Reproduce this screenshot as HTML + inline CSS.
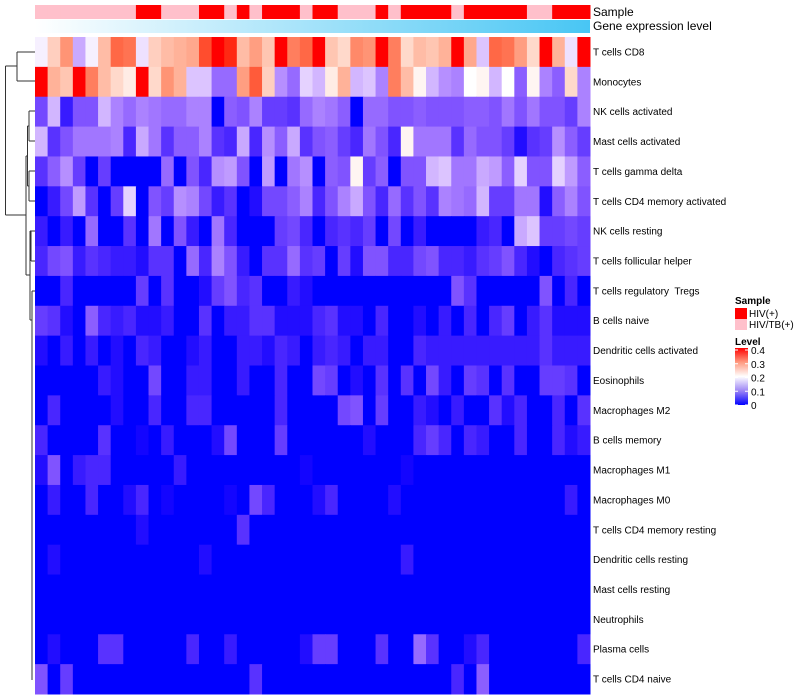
<!DOCTYPE html>
<html><head><meta charset="utf-8"><style>
body{margin:0;background:#fff;}
svg{display:block;font-family:"Liberation Sans",Arial,sans-serif;}
#rowlabels text{white-space:pre;}
</style></head><body>
<svg id="chart" width="800" height="700" viewBox="0 0 800 700">
<defs>
<linearGradient id="geneGrad" x1="0" x2="1" y1="0" y2="0"><stop offset="0" stop-color="#ffffff"/><stop offset="1" stop-color="#48c6f4"/></linearGradient>
<linearGradient id="levelGrad" x1="0" x2="0" y1="1" y2="0"><stop offset="0" stop-color="#0000ff"/><stop offset="0.25" stop-color="#9d86f5"/><stop offset="0.5" stop-color="#ffffff"/><stop offset="0.75" stop-color="#ff9a80"/><stop offset="1" stop-color="#ff0000"/></linearGradient>
</defs>
<g id="sample-bar"></g>
<rect x="35" y="20" width="555" height="13" fill="url(#geneGrad)"/>
<text x="593" y="16" font-size="12">Sample</text>
<text x="593" y="30" font-size="12">Gene expression level</text>
<g id="cells"></g>
<g id="rowlabels"></g>
<g id="dendro" stroke="#333" stroke-width="1" fill="none">
<path d="M5.5 66V215M5.5 66H17M5.5 215H26M17 52V81M17 52H35M17 81H35M26 156V275M26 156H27.5M26 275H30M27.5 126V186M27.5 126H29M27.5 186H29M29 111V141M29 111H35M29 141H35M29 171V201M29 171H35M29 201H35M30 231V320M30 231H31M30 320H32M31 231V261M31 231H35M31 261H35M32 291V680M32 291H35"/>
</g>
<g>
<text x="735" y="304" font-size="10" font-weight="bold">Sample</text>
<rect x="735" y="308" width="12" height="11" fill="#ff0000"/>
<text x="749" y="317" font-size="10">HIV(+)</text>
<rect x="735" y="319" width="12" height="11" fill="#ffc0cb"/>
<text x="749" y="328" font-size="10">HIV/TB(+)</text>
</g>
<g>
<text x="735" y="345" font-size="10" font-weight="bold">Level</text>
<rect x="735" y="348" width="13" height="57" fill="url(#levelGrad)"/>
<g id="levelticks"></g>
</g>
</svg>
<script>
const rowNames=["T cells CD8","Monocytes","NK cells activated","Mast cells activated","T cells gamma delta","T cells CD4 memory activated","NK cells resting","T cells follicular helper","T cells regulatory  Tregs","B cells naive","Dendritic cells activated","Eosinophils","Macrophages M2","B cells memory","Macrophages M1","Macrophages M0","T cells CD4 memory resting","Dendritic cells resting","Mast cells resting","Neutrophils","Plasma cells","T cells CD4 naive"];
const sampleGroups=["P","P","P","P","P","P","P","P","R","R","P","P","P","R","R","P","R","P","R","R","R","P","R","R","P","P","P","R","P","R","R","R","R","P","R","R","R","R","R","P","P","R","R","R"];
const levelTicks=[0,0.1,0.2,0.3,0.4];
const rCD8=[0.19,0.25,0.31,0.14,0.19,0.27,0.35,0.34,0.18,0.25,0.27,0.28,0.29,0.37,0.4,0.39,0.27,0.3,0.26,0.4,0.33,0.35,0.4,0.26,0.24,0.32,0.31,0.4,0.33,0.24,0.27,0.26,0.28,0.4,0.29,0.16,0.35,0.34,0.3,0.24,0.4,0.28,0.18,0.4];
const rMono=[0.4,0.28,0.26,0.4,0.33,0.27,0.24,0.22,0.4,0.24,0.31,0.28,0.16,0.16,0.09,0.09,0.3,0.36,0.25,0.12,0.09,0.17,0.15,0.22,0.28,0.15,0.16,0.11,0.33,0.27,0.21,0.15,0.12,0.11,0.2,0.21,0.15,0.2,0.08,0.21,0.11,0.08,0.24,0.11];
const rNKact=[0.06,0.15,0.02,0.07,0.07,0.15,0.11,0.09,0.11,0.1,0.09,0.09,0.11,0.11,0,0.08,0.07,0.11,0.05,0.05,0.04,0.09,0.11,0.1,0.08,0,0.09,0.09,0.07,0.07,0.08,0.07,0.07,0.07,0.08,0.08,0.07,0.1,0.07,0.1,0.07,0.07,0.05,0.11];
const rMastAct=[0.15,0.04,0.07,0.1,0.1,0.1,0.11,0.03,0.14,0.1,0.04,0.08,0.08,0.11,0.04,0.03,0.14,0.03,0.12,0.08,0.14,0.04,0.07,0.08,0.05,0.03,0.1,0.07,0.03,0.21,0.1,0.1,0.1,0.04,0.09,0.07,0.07,0.05,0.01,0.04,0.05,0.12,0.08,0.05];
const rGD=[0.04,0.08,0.12,0.05,0,0.05,0,0,0,0,0.09,0,0.07,0.03,0.12,0.13,0.07,0,0.13,0,0.1,0.12,0,0.08,0.07,0.21,0.05,0.08,0,0.07,0.07,0.15,0.16,0.1,0.1,0.14,0.13,0.08,0.17,0.07,0.07,0.17,0.13,0.08];
const rCD4act=[0,0.02,0.06,0.13,0.04,0,0.05,0.17,0,0.07,0.05,0.12,0.11,0.06,0.02,0.04,0,0.01,0.06,0.06,0.08,0.11,0.03,0.07,0.11,0.14,0.07,0.03,0.09,0.04,0.07,0.04,0.11,0.1,0.09,0.15,0.05,0.05,0.1,0.1,0.01,0.08,0.11,0.07];
const rNKrest=[0.02,0,0.02,0,0.09,0,0,0.04,0,0.1,0,0.07,0.02,0,0.1,0.03,0,0,0,0.05,0.06,0.03,0,0.03,0.04,0.03,0.05,0,0.06,0,0.02,0,0,0,0,0.02,0.03,0,0.14,0.16,0.05,0.05,0.06,0.05];
const rTfh=[0.03,0.06,0.07,0.02,0.04,0.03,0.02,0.02,0.01,0.04,0.04,0,0.09,0.03,0.11,0.07,0.02,0,0.04,0.04,0.09,0.04,0.05,0,0.05,0.01,0.07,0.07,0.03,0.03,0.06,0.07,0.03,0.03,0.02,0.04,0.05,0.07,0.03,0.01,0,0.03,0.04,0.05];
const rTreg=[0,0,0.03,0,0,0,0,0,0.05,0,0.04,0,0,0.01,0.05,0.07,0.03,0.04,0,0,0.02,0.01,0,0,0,0,0,0,0,0,0,0,0,0.07,0.04,0,0,0,0,0,0.07,0,0.03,0];
const rBnaive=[0.05,0.04,0.01,0,0.08,0.03,0.02,0.03,0.01,0.01,0.02,0,0,0.04,0,0.02,0.02,0.04,0.04,0.01,0.01,0.01,0.03,0.04,0.01,0.01,0,0.03,0,0,0.01,0,0.02,0,0.03,0,0.03,0.05,0,0.02,0.04,0.01,0.01,0.01];
const rDCact=[0.01,0,0.02,0,0.02,0,0.01,0,0.03,0.02,0,0,0.01,0.02,0,0,0.02,0.02,0.01,0.03,0.02,0,0.02,0.03,0.02,0,0.02,0.02,0,0,0.03,0.02,0.02,0.02,0.02,0.02,0.02,0.02,0.02,0.02,0.04,0.02,0.02,0.02];
const rEos=[0,0,0,0,0,0.02,0.01,0,0,0.06,0,0,0.02,0.02,0,0,0.02,0,0,0.03,0,0,0.06,0.05,0,0.01,0,0.04,0,0.04,0,0.06,0.02,0,0.05,0.04,0,0.04,0,0,0.05,0.05,0.04,0];
const rM2=[0,0.03,0,0,0,0,0.01,0,0,0.03,0,0,0.03,0.03,0,0,0,0,0,0.03,0,0,0,0,0.06,0.07,0,0.05,0,0,0.02,0.01,0,0.02,0,0,0.04,0.01,0.03,0,0,0.03,0,0.04];
const rBmem=[0.03,0,0,0,0,0.04,0,0,0.005,0,0.02,0,0,0,0.01,0.06,0,0,0,0.05,0,0,0,0,0,0,0.01,0,0,0,0.03,0.05,0.03,0,0.03,0.02,0,0,0.03,0,0,0.03,0.01,0.02];
const rM1=[0.01,0.07,0,0.02,0.03,0.03,0,0,0,0,0,0.02,0,0,0,0,0,0,0,0,0,0.005,0,0,0,0,0,0,0,0.005,0,0,0,0,0,0,0,0,0,0,0,0,0,0];
const rM0=[0,0.02,0,0,0.03,0,0,0.01,0.03,0,0.005,0,0,0,0,0.005,0,0.06,0.03,0,0,0,0.01,0.03,0,0,0,0,0.01,0,0,0,0,0,0,0,0,0,0,0,0,0,0.02,0];
const rCD4rest=[0,0,0,0,0,0,0,0,0.01,0,0,0,0,0,0,0,0.04,0,0,0,0,0,0,0,0,0,0,0,0,0,0,0,0,0,0,0,0,0,0,0,0,0,0,0];
const rDCrest=[0,0.01,0,0,0,0,0,0,0,0,0,0,0,0.01,0,0,0,0,0,0,0,0,0,0,0,0,0,0,0,0.02,0,0,0,0,0,0,0,0,0,0,0,0,0,0];
const rMastRest=[0,0,0,0,0,0,0,0,0,0,0,0,0,0,0,0,0,0,0,0,0,0,0,0,0,0,0,0,0,0,0,0,0,0,0,0,0,0,0,0,0,0,0,0];
const rNeut=[0,0,0,0,0,0,0,0,0,0,0,0,0,0,0,0,0,0,0,0,0,0,0,0,0,0,0,0,0,0,0,0,0,0,0,0,0,0,0,0,0,0,0,0];
const rPlasma=[0,0.01,0,0,0,0.04,0.04,0,0,0,0,0,0.03,0,0,0.02,0,0,0,0,0,0.01,0.05,0.05,0,0,0,0.04,0,0,0.09,0.04,0,0,0.01,0.03,0,0,0,0,0,0,0,0.03];
const rCD4naive=[0.07,0,0.05,0,0,0,0,0,0,0,0,0,0,0,0,0,0,0.04,0,0,0,0,0,0,0,0,0,0,0,0,0,0,0,0.03,0,0.08,0,0,0,0,0,0,0,0];
const matrix=[rCD8,rMono,rNKact,rMastAct,rGD,rCD4act,rNKrest,rTfh,rTreg,rBnaive,rDCact,rEos,rM2,rBmem,rM1,rM0,rCD4rest,rDCrest,rMastRest,rNeut,rPlasma,rCD4naive];

const NS="http://www.w3.org/2000/svg";
const X0=35,X1=590,Y0=37,Y1=694;
const nCol=sampleGroups.length,nRow=rowNames.length;
const cw=(X1-X0)/nCol,rh=(Y1-Y0)/nRow;
const xPos=i=>X0+i*cw, yPos=j=>Y0+j*rh;

function toLin(c){c/=255;return c<=0.04045?c/12.92:Math.pow((c+0.055)/1.055,2.4);}
function fromLin(c){c=c<=0.0031308?12.92*c:1.055*Math.pow(c,1/2.4)-0.055;return Math.max(0,Math.min(255,Math.round(c*255)));}
function rgb2lab(r,g,b){r=toLin(r);g=toLin(g);b=toLin(b);
let x=(0.4124*r+0.3576*g+0.1805*b)/0.95047,y=0.2126*r+0.7152*g+0.0722*b,z=(0.0193*r+0.1192*g+0.9505*b)/1.08883;
const f=t=>t>0.008856?Math.cbrt(t):7.787*t+16/116;x=f(x);y=f(y);z=f(z);return[116*y-16,500*(x-y),200*(y-z)];}
function lab2rgb(L,a,bb){let y=(L+16)/116,x=a/500+y,z=y-bb/200;
const fi=t=>t*t*t>0.008856?t*t*t:(t-16/116)/7.787;x=fi(x)*0.95047;y=fi(y);z=fi(z)*1.08883;
const r=3.2406*x-1.5372*y-0.4986*z,g=-0.9689*x+1.8758*y+0.0415*z,b=0.0557*x-0.2040*y+1.0570*z;return[fromLin(r),fromLin(g),fromLin(b)];}
const cBlue=rgb2lab(0,0,255),cWhite=rgb2lab(255,255,255),cRed=rgb2lab(255,0,0);
function colorFor(v){v=Math.max(0,Math.min(0.4,v));let a,b,t;
if(v<=0.2){a=cBlue;b=cWhite;t=Math.pow(v/0.2,1.3);}else{a=cWhite;b=cRed;t=(v-0.2)/0.2;}
const c=lab2rgb(a[0]+(b[0]-a[0])*t,a[1]+(b[1]-a[1])*t,a[2]+(b[2]-a[2])*t);return `rgb(${c[0]},${c[1]},${c[2]})`;}

const sg=document.getElementById('sample-bar');
sampleGroups.forEach((g,i)=>{const r=document.createElementNS(NS,'rect');
r.setAttribute('x',xPos(i));r.setAttribute('y',5);r.setAttribute('width',cw+0.5);r.setAttribute('height',14);
r.setAttribute('fill',g==='R'?'#ff0000':'#ffc0cb');


sg.appendChild(r);});

const cg=document.getElementById('cells');
matrix.forEach((row,j)=>{row.forEach((v,i)=>{const r=document.createElementNS(NS,'rect');
r.setAttribute('x',xPos(i));r.setAttribute('y',yPos(j));r.setAttribute('width',cw+0.5);r.setAttribute('height',rh+0.5);
r.setAttribute('fill',colorFor(v));


cg.appendChild(r);});});

const lg=document.getElementById('rowlabels');
rowNames.forEach((n,j)=>{const t=document.createElementNS(NS,'text');
t.setAttribute('x',593);t.setAttribute('y',yPos(j)+rh/2+3.5);t.setAttribute('font-size','10');
t.textContent=n;


lg.appendChild(t);});

const tg=document.getElementById('levelticks');
const ly=v=>405-v/0.4*55;
levelTicks.forEach(v=>{const t=document.createElementNS(NS,'text');
t.setAttribute('x',751);t.setAttribute('y',ly(v)+4);t.setAttribute('font-size','10');t.textContent=String(v);


tg.appendChild(t);
const l=document.createElementNS(NS,'path');
l.setAttribute('d',`M735 ${ly(v)}h3M745 ${ly(v)}h3`);l.setAttribute('stroke','#fff');l.setAttribute('stroke-width','1');


tg.appendChild(l);});
</script>
</body></html>
